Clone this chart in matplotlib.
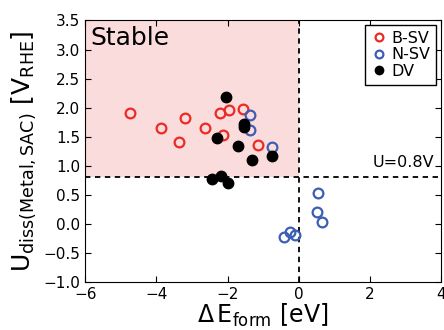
import numpy as np
import matplotlib.pyplot as plt

bsv_x = [-4.73, -3.88, -3.19, -3.35, -2.63, -2.22, -1.97, -2.12, -1.56, -1.13]
bsv_y = [1.90, 1.65, 1.82, 1.41, 1.65, 1.90, 1.95, 1.52, 1.97, 1.36]

nsv_x = [-1.38, -1.38, -0.74, -0.42, -0.23, -0.11, 0.55, 0.53, 0.65]
nsv_y = [1.87, 1.61, 1.32, -0.23, -0.14, -0.20, 0.53, 0.20, 0.03]

dv_x = [-2.03, -1.53, -1.53, -2.29, -1.70, -1.32, -0.75, -2.45, -2.17, -1.99]
dv_y = [2.19, 1.72, 1.67, 1.47, 1.33, 1.10, 1.17, 0.77, 0.83, 0.71]

u_limit = 0.8
xlim = (-6, 4)
ylim = (-1.0, 3.5)

fig = plt.figure(figsize=(4.44, 3.3), dpi=100)
ax = fig.add_axes([0.192, 0.146, 0.801, 0.792])

ax.fill_between([xlim[0], 0], u_limit, ylim[1], color='#fbdcdc', zorder=0, linewidth=0)
ax.axhline(u_limit, color='k', ls='--', lw=1.3, dashes=(3, 2.5), zorder=1)
ax.axvline(0, color='k', ls='--', lw=1.3, dashes=(3, 2.5), zorder=1)

ax.plot(bsv_x, bsv_y, 'o', mfc='none', mec='#ec2a24', mew=1.6, ms=7, label='B-SV', zorder=3)
ax.plot(nsv_x, nsv_y, 'o', mfc='none', mec='#3c5db4', mew=1.6, ms=7, label='N-SV', zorder=3)
ax.plot(dv_x, dv_y, 'o', color='k', ms=7.5, label='DV', zorder=4)

ax.text(0.014, 0.978, 'Stable', transform=ax.transAxes, ha='left', va='top', fontsize=18)
ax.text(3.8, 0.93, 'U=0.8V', ha='right', va='bottom', fontsize=11.5)

ax.set_xlim(*xlim)
ax.set_ylim(*ylim)
ax.set_xticks(np.arange(-6, 5, 2))
ax.set_yticks(np.arange(-1.0, 3.6, 0.5))
ax.tick_params(direction='in', top=True, right=True, labelsize=11, length=4)

ax.set_xlabel(r'$\Delta\,\mathrm{E}_{\mathrm{form}}\ [\mathrm{eV}]$', fontsize=17, labelpad=0)
ax.set_ylabel(r'$\mathrm{U}_{\mathrm{diss(Metal,SAC)}}\ [\mathrm{V}_{\mathrm{RHE}}]$', fontsize=18, labelpad=4)

leg = ax.legend(loc='upper right', fontsize=11.5, numpoints=1, handletextpad=0.3,
                borderaxespad=0.3, fancybox=False, framealpha=1, handlelength=1.0,
                labelspacing=0.1, borderpad=0.35, markerscale=0.8)
leg.get_frame().set_edgecolor('k')

fig.savefig('out.png', dpi=100)
